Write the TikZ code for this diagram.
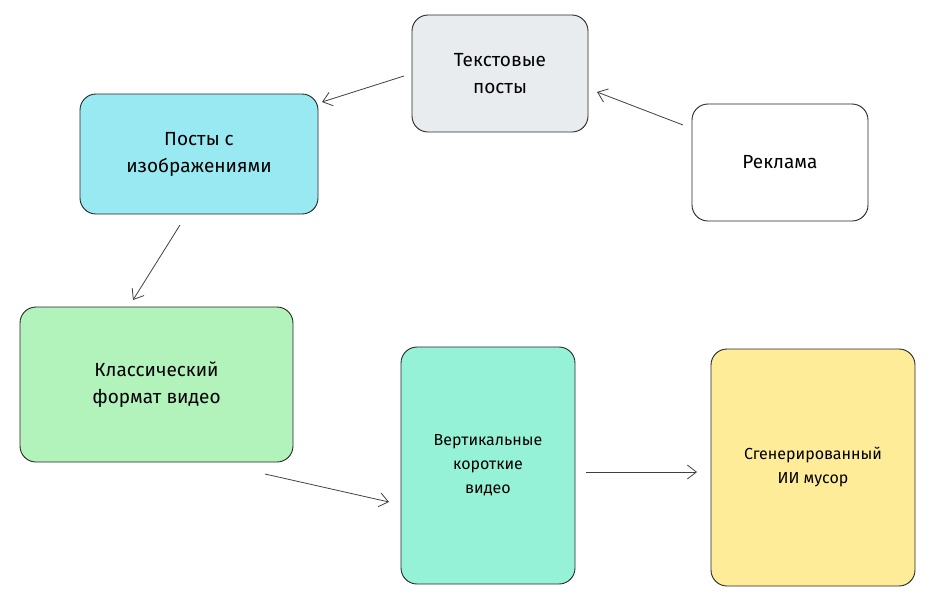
\documentclass[tikz,border=0pt]{standalone}
\usepackage{fontspec}
\setmainfont{Fira Sans}
\usetikzlibrary{arrows.meta}
\definecolor{cgray}{HTML}{E9ECEF}
\definecolor{ccyan}{HTML}{99E9F2}
\definecolor{cgreen}{HTML}{B2F2BB}
\definecolor{cteal}{HTML}{96F2D7}
\definecolor{cyel}{HTML}{FFEC99}
\tikzset{bx/.style={draw=black!85,line width=0.9pt,rounded corners=16pt,align=center,font=\fontsize{19}{27}\selectfont,inner sep=0pt},
arr/.style={draw=black!75,line width=0.8pt,-{Straight Barb[length=9pt,width=14pt]}}}
\begin{document}
\begin{tikzpicture}[x=1pt,y=-1pt]
\useasboundingbox (0,0) rectangle (948,606);
\node[bx,fill=cgray,minimum width=176pt,minimum height=117pt] (t) at (500,73.5) {Текстовые\\посты};
\node[bx,fill=white,minimum width=176pt,minimum height=117pt] (r) at (780,162.5) {Реклама};
\node[bx,fill=ccyan,minimum width=238pt,minimum height=120pt] (p) at (199,154) {Посты с\\изображениями};
\node[bx,fill=cgreen,minimum width=273pt,minimum height=155pt] (k) at (156.5,384.5) {Классический\\формат видео};
\node[bx,fill=cteal,minimum width=174pt,minimum height=237pt,font=\fontsize{16}{24}\selectfont] (v) at (488,465.5) {Вертикальные\\короткие\\видео};
\node[bx,fill=cyel,minimum width=204pt,minimum height=237pt,font=\fontsize{16}{24}\selectfont] (g) at (813,467.5) {Сгенерированный\\ИИ мусор};
\coordinate (a1) at (683,125); \coordinate (b1) at (597,92);
\coordinate (a2) at (404,76); \coordinate (b2) at (322,102);
\coordinate (a3) at (180,225); \coordinate (b3) at (133,300);
\coordinate (a4) at (265,474); \coordinate (b4) at (389,502);
\coordinate (a5) at (586,472); \coordinate (b5) at (697,472);
\draw[arr] (a1) -- (b1);
\draw[arr] (a2) -- (b2);
\draw[arr] (a3) -- (b3);
\draw[arr] (a4) -- (b4);
\draw[arr] (a5) -- (b5);
\end{tikzpicture}
\end{document}
